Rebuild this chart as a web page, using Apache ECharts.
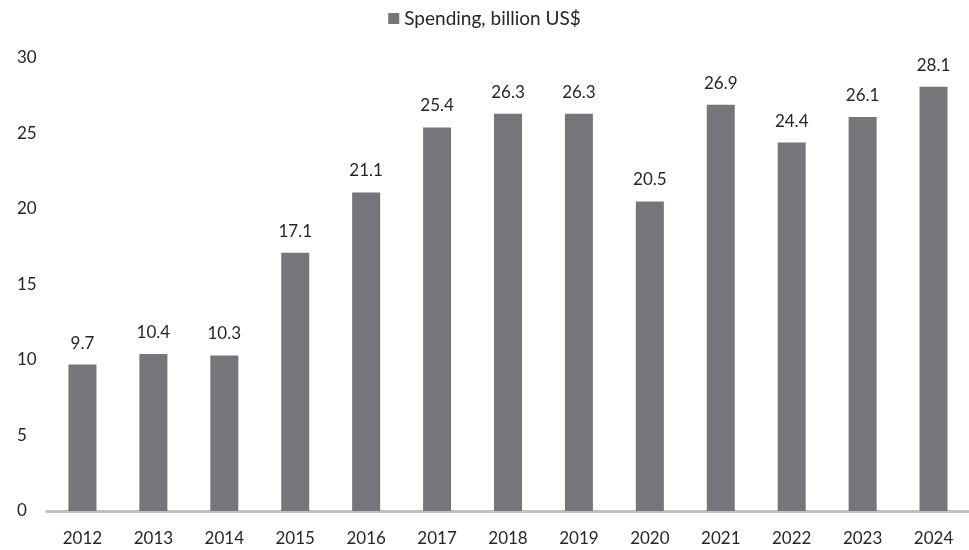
<!DOCTYPE html>
<html><head><meta charset="utf-8">
<script src="https://cdn.jsdelivr.net/npm/echarts@6/dist/echarts.min.js"></script>
<style>html,body{margin:0;padding:0;background:#fff}#c{width:969px;height:550px}</style>
</head><body><div id="c"></div>
<script>
const categories = ['2012','2013','2014','2015','2016','2017','2018','2019','2020','2021','2022','2023','2024'];
const spending = [9.7,10.4,10.3,17.1,21.1,25.4,26.3,26.3,20.5,26.9,24.4,26.1,28.1];
const yTicks = [0,5,10,15,20,25,30];
const seriesName = 'Spending, billion US$';

const font = 'Lato, Open Sans, sans-serif';
const chart = echarts.init(document.getElementById('c'), null, {renderer:'canvas'});
chart.setOption({
  animation:false,
  legend:{top:4, left:'center', itemWidth:11, itemHeight:11, itemGap:5,
    icon:'rect', textStyle:{fontFamily:font, fontSize:19, color:'#262626'}, data:[seriesName]},
  grid:{left:47, right:0, top:58, bottom:39, containLabel:false},
  xAxis:{type:'category', data:categories,
    axisLine:{lineStyle:{color:'#bfbfbf', width:3}},
    axisTick:{show:false},
    axisLabel:{fontFamily:font, fontSize:17, color:'#262626', margin:19}},
  yAxis:{type:'value', min:yTicks[0], max:yTicks[yTicks.length-1], interval:5,
    axisLine:{show:false}, axisTick:{show:false}, splitLine:{show:false},
    axisLabel:{fontFamily:font, fontSize:17, color:'#262626', margin:30, align:'left'}},
  series:[{name:seriesName, type:'bar', data:spending, barWidth:28,
    itemStyle:{color:'#76767a'},
    label:{show:true, position:'top', distance:13, fontFamily:font, fontSize:17, color:'#262626'}}]
});
</script></body></html>
